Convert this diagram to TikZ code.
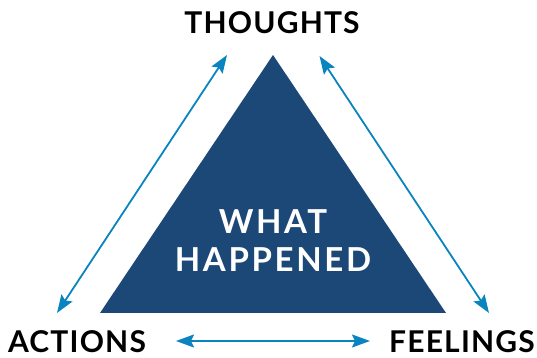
\documentclass[tikz,border=0pt]{standalone}
\usepackage{fontspec}
\setsansfont{Lato}
\newfontfamily\cornerfont[LetterSpace=4]{Lato}
\newfontfamily\centrefont[LetterSpace=8]{Lato}
\usepackage{tikz}
\usetikzlibrary{arrows.meta,positioning}
\definecolor{triblue}{HTML}{1B4876}
\definecolor{arrowblue}{HTML}{0A84BF}

\begin{document}
\begin{tikzpicture}[
    x=1pt, y=1pt,
    >={Stealth[length=18pt,width=13pt,inset=3pt]},
    font=\bfseries\sffamily,
    corner/.style={
		inner sep=0pt,
		text=black,
		font=\cornerfont\fontsize{30}{30}\selectfont\bfseries
	},
	link/.style={
		draw=arrowblue,
		line width=1.8pt,
		<->
	},
	centre/.style={
		inner sep=0pt,
		text=white,
		align=center,
		font=\centrefont\fontsize{33}{38}\selectfont\bfseries
	}
  ]
  \useasboundingbox (0,0) rectangle (537,358);
    % the triangle first
  \coordinate (apex) at (273,303);
  \coordinate (baseL) at (100,45);
  \coordinate (baseR) at (446,45);
  \fill [triblue] (apex) -- (baseL) -- (baseR) -- cycle;

  \node [centre] (what) at (273,117) {WHAT\\HAPPENED};

  % corner labels
  \node [corner] (thoughts) at (272,335) {THOUGHTS};
  \node [corner] (actions) at (77,16.5) {ACTIONS};
  \node [corner] (feelings) at (462,16.5) {FEELINGS};

  % ends of the arrows
  \coordinate (ta) at (227,303);
  \coordinate (at) at (57,45);
  \coordinate (tf) at (319.5,302);
  \coordinate (ft) at (489,45);
  \coordinate (af) at (176,17);
  \coordinate (fa) at (370,17);

  \draw [link] (at) -- (ta);
  \draw [link] (tf) -- (ft);
  \draw [link] (af) -- (fa);

\end{tikzpicture}
\end{document}
